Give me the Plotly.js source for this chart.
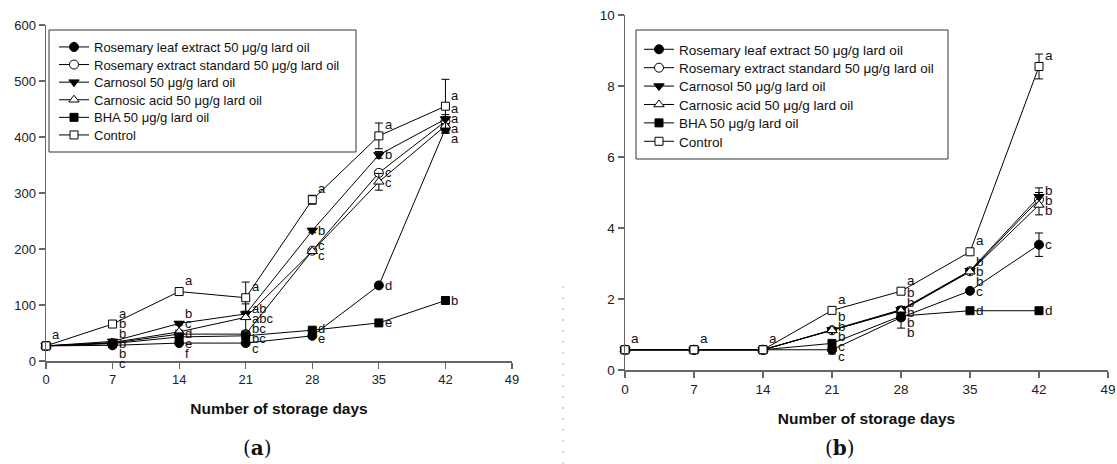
<!DOCTYPE html>
<html><head><meta charset="utf-8">
<script src="https://cdn.plot.ly/plotly-3.0.1.min.js"></script>
<style>html,body{margin:0;padding:0;background:#fff;} #chart{width:1117px;height:464px;}</style>
</head><body><div id="chart"></div>
<script>
// ---------------- DATA ----------------
const days = [0, 7, 14, 21, 28, 35, 42];
const xTickVals = [0, 7, 14, 21, 28, 35, 42, 49];
const aTickVals = [0, 100, 200, 300, 400, 500, 600];
const bTickVals = [0, 2, 4, 6, 8, 10];
const seriesNames = [
  'Rosemary leaf extract 50 μg/g lard oil',
  'Rosemary extract standard 50 μg/g lard oil',
  'Carnosol 50 μg/g lard oil',
  'Carnosic acid 50 μg/g lard oil',
  'BHA 50 μg/g lard oil',
  'Control'
];
const xTitle = 'Number of storage days';
const panelLabels = ['a', 'b'];

// panel (a)
const aRLE      = [27, 28, 32, 32, 45, 135, 415];
const aRES      = [27, 32, 48, 48, 197, 336, 428];
const aCarnosol = [27, 35, 67, 84, 233, 368, 432];
const aCarnosic = [27, 33, 52, 78, 196, 320, 420];
const aBHA      = [27, 31, 43, 45, 55, 68, 108];
const aControl  = [27, 66, 124, 113, 288, 402, 455];

const aRLEErr      = [1, 2, 2, 3, 3, 3, 8];
const aRESErr      = [1, 2, 3, 4, 4, 5, 8];
const aCarnosolErr = [1, 2, 3, 5, 4, 6, 8];
const aCarnosicErr = [1, 2, 3, 24, 4, 15, 13];
const aBHAErr      = [1, 2, 2, 3, 3, 3, 4];
const aControlErr  = [2, 3, 3, 28, 8, 23, 48];

const aRLELet      = ['', 'c', 'f', 'c', 'e', 'd', 'a'];
const aRESLet      = ['', 'b', 'd', 'bc', 'c', 'c', 'a'];
const aCarnosolLet = ['', 'b', 'b', 'ab', 'b', 'b', 'a'];
const aCarnosicLet = ['', 'b', 'c', 'abc', 'c', 'c', 'a'];
const aBHALet      = ['', 'b', 'e', 'bc', 'd', 'e', 'b'];
const aControlLet  = ['a', 'a', 'a', 'a', 'a', 'a', 'a'];

// panel (b)
const bRLE      = [0.57, 0.57, 0.57, 0.57, 1.48, 2.23, 3.53];
const bRES      = [0.57, 0.57, 0.57, 1.12, 1.68, 2.78, 4.80];
const bCarnosol = [0.57, 0.57, 0.57, 1.13, 1.70, 2.80, 4.88];
const bCarnosic = [0.57, 0.57, 0.57, 1.12, 1.67, 2.77, 4.65];
const bBHA      = [0.57, 0.57, 0.57, 0.75, 1.52, 1.67, 1.67];
const bControl  = [0.57, 0.57, 0.57, 1.68, 2.22, 3.33, 8.55];

const bRLEErr      = [0.02, 0.02, 0.02, 0.12, 0.30, 0.05, 0.33];
const bRESErr      = [0.02, 0.02, 0.02, 0.05, 0.08, 0.05, 0.20];
const bCarnosolErr = [0.02, 0.02, 0.02, 0.05, 0.08, 0.05, 0.25];
const bCarnosicErr = [0.02, 0.02, 0.02, 0.05, 0.12, 0.05, 0.28];
const bBHAErr      = [0.02, 0.02, 0.02, 0.08, 0.05, 0.04, 0.04];
const bControlErr  = [0.02, 0.02, 0.02, 0.04, 0.04, 0.05, 0.35];

const bRLELet      = ['', '', '', 'c', 'b', 'c', 'c'];
const bRESLet      = ['', '', '', 'b', 'b', 'b', 'b'];
const bCarnosolLet = ['', '', '', 'b', 'b', 'b', 'b'];
const bCarnosicLet = ['', '', '', 'b', 'b', 'b', 'b'];
const bBHALet      = ['', '', '', 'c', 'b', 'd', 'd'];
const bControlLet  = ['a', 'a', 'a', 'a', 'a', 'a', 'a'];

// ---------------- STYLE / LAYOUT ----------------
const W = 1117, H = 464;
const FONT = 'Liberation Sans, Arial, Helvetica, sans-serif';
const symbols = ['circle', 'circle', 'triangle-down', 'triangle-up', 'square', 'square'];
const fills = ['black', 'white', 'black', 'white', 'black', 'white'];
const sizes = [9, 9, 9, 9, 8, 8];
const AXC = '#666';

const panels = [
  {vals: [aRLE, aRES, aCarnosol, aCarnosic, aBHA, aControl],
   errs: [aRLEErr, aRESErr, aCarnosolErr, aCarnosicErr, aBHAErr, aControlErr],
   lets: [aRLELet, aRESLet, aCarnosolLet, aCarnosicLet, aBHALet, aControlLet],
   xa: 'x', ya: 'y', leg: 'legend', fs: 13, standoff: 17,
   px: [46, 512], py: [361, 25], yr: [0, 600], ticks: aTickVals},
  {vals: [bRLE, bRES, bCarnosol, bCarnosic, bBHA, bControl],
   errs: [bRLEErr, bRESErr, bCarnosolErr, bCarnosicErr, bBHAErr, bControlErr],
   lets: [bRLELet, bRESLet, bCarnosolLet, bCarnosicLet, bBHALet, bControlLet],
   xa: 'x2', ya: 'y2', leg: 'legend2', fs: 13.5, standoff: 17,
   px: [625, 1108], py: [370, 15], yr: [0, 10], ticks: bTickVals}
];

const traces = [];
panels.forEach(p => {
  p.vals.forEach((v, s) => {
    traces.push({
      type: 'scatter', mode: 'lines+markers', x: days, y: v, name: seriesNames[s],
      xaxis: p.xa, yaxis: p.ya, legend: p.leg, cliponaxis: false,
      line: {color: 'black', width: 1},
      marker: {symbol: symbols[s], size: sizes[s], color: fills[s], line: {color: 'black', width: 1}},
      error_y: {type: 'data', array: p.errs[s], visible: true, color: 'black', thickness: 1, width: 4}
    });
  });
});

function placeStack(desired, gap) {
  let clusters = desired.map(d => ({sum: d, n: 1, start: d}));
  let merged = true;
  while (merged) {
    merged = false;
    for (let i = 0; i < clusters.length - 1; i++) {
      const a = clusters[i], b = clusters[i + 1];
      if (a.start + a.n * gap > b.start + 1e-9) {
        const n = a.n + b.n, sum = a.sum + b.sum;
        clusters.splice(i, 2, {sum, n, start: sum / n - (n - 1) * gap / 2});
        merged = true; break;
      }
    }
  }
  const out = [];
  clusters.forEach(c => { for (let k = 0; k < c.n; k++) out.push(c.start + k * gap); });
  return out;
}

const annotations = [];
panels.forEach(p => {
  const ppu = (p.py[0] - p.py[1]) / (p.yr[1] - p.yr[0]);
  days.forEach((d, i) => {
    const items = [];
    p.vals.forEach((v, s) => { if (p.lets[s][i]) items.push({v: v[i], t: p.lets[s][i]}); });
    items.sort((a, b) => b.v - a.v);
    const mpx = items.map(it => -it.v * ppu);
    const desired = mpx.map((m, k) => k === 0 ? m - 11 : m);
    const pos = placeStack(desired, 10);
    items.forEach((it, k) => {
      annotations.push({
        x: d, y: it.v, xref: p.xa, yref: p.ya, text: it.t, showarrow: false,
        xanchor: 'left', yanchor: 'middle', xshift: 4, yshift: mpx[k] - pos[k],
        font: {family: FONT, size: p.fs, color: '#111'}
      });
    });
  });
});

// panel letters (a) (b)
annotations.push({xref: 'paper', yref: 'paper', x: 257 / W, y: 1 - 448 / H, text: '(<b>' + panelLabels[0] + '</b>)',
  showarrow: false, xanchor: 'center', yanchor: 'middle', font: {family: 'DejaVu Serif, Liberation Serif, serif', size: 20, color: '#111'}});
annotations.push({xref: 'paper', yref: 'paper', x: 840 / W, y: 1 - 448 / H, text: '(<b>' + panelLabels[1] + '</b>)',
  showarrow: false, xanchor: 'center', yanchor: 'middle', font: {family: 'DejaVu Serif, Liberation Serif, serif', size: 20, color: '#111'}});

function xAxis(p, anchor) {
  return {domain: [p.px[0] / W, p.px[1] / W], range: [0, 49], tickvals: xTickVals, anchor: anchor,
    showline: true, linecolor: AXC, linewidth: 1.5, ticks: 'outside', ticklen: 6, tickcolor: AXC, tickwidth: 1.2,
    showgrid: false, zeroline: false, tickfont: {family: FONT, size: p.fs, color: '#222'},
    title: {text: xTitle, font: {family: FONT, size: 15.5, color: '#111', weight: 'bold'}, standoff: p.standoff}};
}
function yAxis(p, anchor) {
  return {domain: [1 - p.py[0] / H, 1 - p.py[1] / H], range: p.yr, tickvals: p.ticks, anchor: anchor,
    showline: true, linecolor: AXC, linewidth: 1.5, ticks: 'outside', ticklen: 6, tickcolor: AXC, tickwidth: 1.2,
    showgrid: false, zeroline: false, tickfont: {family: FONT, size: p.fs, color: '#222'}};
}

const layout = {
  width: W, height: H, margin: {l: 0, r: 0, t: 0, b: 0},
  paper_bgcolor: 'white', plot_bgcolor: 'white',
  xaxis: xAxis(panels[0], 'y'), yaxis: yAxis(panels[0], 'x'),
  xaxis2: xAxis(panels[1], 'y2'), yaxis2: yAxis(panels[1], 'x2'),
  legend: {x: 54 / W, y: 1 - 32 / H, xanchor: 'left', yanchor: 'top', bgcolor: 'rgba(0,0,0,0)', borderwidth: 0,
    font: {family: FONT, size: 13, color: '#111'}, itemwidth: 30, tracegroupgap: 0},
  legend2: {x: 639 / W, y: 1 - 34 / H, xanchor: 'left', yanchor: 'top', bgcolor: 'rgba(0,0,0,0)', borderwidth: 0,
    font: {family: FONT, size: 13.5, color: '#111'}, itemwidth: 30, tracegroupgap: 0},
  showlegend: true,
  annotations: annotations,
  shapes: [
    {type: 'rect', xref: 'paper', yref: 'paper', x0: 49 / W, x1: 356 / W, y0: 1 - 152 / H, y1: 1 - 30 / H,
      line: {color: '#333', width: 1}, fillcolor: 'rgba(0,0,0,0)'},
    {type: 'rect', xref: 'paper', yref: 'paper', x0: 636 / W, x1: 948 / W, y0: 1 - 159 / H, y1: 1 - 30 / H,
      line: {color: '#333', width: 1}, fillcolor: 'rgba(0,0,0,0)'},
    {type: 'line', xref: 'paper', yref: 'paper', x0: 563 / W, x1: 563 / W, y0: 0, y1: 1 - 285 / H,
      line: {color: '#aaa', width: 1, dash: '2px,9px'}}
  ]
};

// legend row spacing of the original figure
const legendSteps = {legend: 17.6, legend2: 18.4};

Plotly.newPlot('chart', traces, layout, {staticPlot: true, displayModeBar: false}).then(() => {
  Object.keys(legendSteps).forEach(cls => {
    const items = document.querySelectorAll('g.' + cls + ' g.traces');
    let y0 = null;
    items.forEach((g, i) => {
      const t = g.getAttribute('transform') || '';
      const m = /translate\(\s*([-\d.e]+)[\s,]+([-\d.e]+)\s*\)/.exec(t);
      if (!m) return;
      if (y0 === null) y0 = parseFloat(m[2]);
      g.setAttribute('transform', 'translate(' + m[1] + ',' + (y0 + i * legendSteps[cls]) + ')');
    });
  });
});
</script>
</body></html>
